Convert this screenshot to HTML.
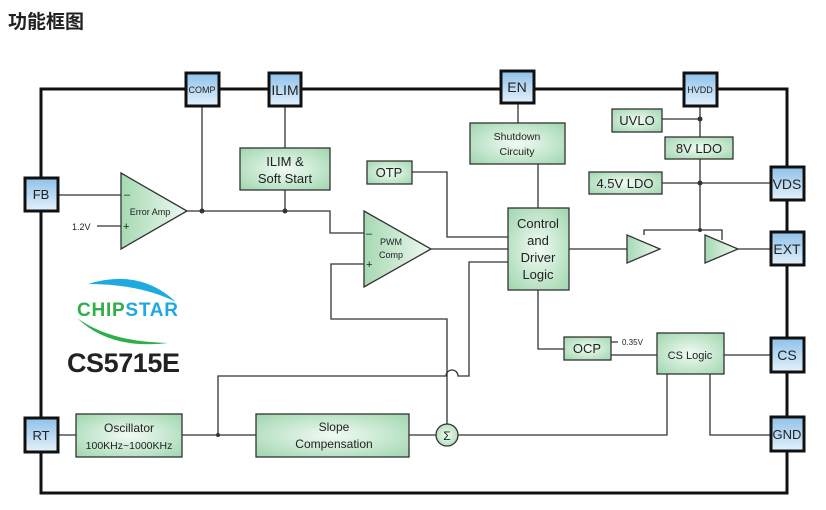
<!DOCTYPE html>
<html><head><meta charset="utf-8"><style>
html,body{margin:0;padding:0;background:#fff;}
svg{display:block;}
text{font-family:"Liberation Sans","Noto Sans CJK SC",sans-serif;fill:#222;}
</style></head><body>
<svg width="826" height="510" viewBox="0 0 826 510" xmlns="http://www.w3.org/2000/svg">
<defs>
<radialGradient id="g" cx="50%" cy="50%" r="70%"><stop offset="0" stop-color="#f2fbf4"/><stop offset="1" stop-color="#9fd6ae"/></radialGradient>
<linearGradient id="b" x1="0" y1="0" x2="0" y2="1"><stop offset="0" stop-color="#8fc1e9"/><stop offset="1" stop-color="#e4f1fb"/></linearGradient>
<linearGradient id="t" x1="0" y1="0" x2="1" y2="0"><stop offset="0" stop-color="#a6d9b3"/><stop offset="1" stop-color="#eef9f1"/></linearGradient>
</defs>
<text x="8" y="28" font-size="19" font-weight="bold" style="font-family:'Noto Sans CJK SC',sans-serif">功能框图</text>
<!-- outer border -->
<rect x="41" y="89" width="746" height="404" fill="none" stroke="#111" stroke-width="3"/>
<g stroke="#333" stroke-width="1.3" fill="none">
<!-- left side -->
<path d="M58 195H121M97 226H121M187 211H330V233H364M202 106V211M285 106V148M285 190V211"/>
<path d="M364 264H331V319H447V424"/>
<path d="M411 172H447V237H508M431 249H508M508 262H469V376H458a6 6 0 0 0 -12 0H218V435"/>
<path d="M58 435H76M182 435H256M409 435H436M458 435H667V374M710 374V435H771"/>
<path d="M518 103V123M538 164V208M538 290V349H564M611 342H618M611 355H657M724 355H771"/>
<path d="M569 249H627M738 249H771M700 106V137M662 119H700M700 159V230M662 183H771M644 235V230H722V240"/>
</g>
<g fill="#333"><circle cx="202" cy="211" r="2.5"/><circle cx="285" cy="211" r="2.5"/><circle cx="218" cy="435" r="2"/><circle cx="700" cy="119" r="2.5"/><circle cx="700" cy="183" r="2.5"/><circle cx="700" cy="230" r="2"/></g>
<!-- green boxes -->
<g fill="url(#g)" stroke="#333" stroke-width="1.3">
<rect x="240" y="148" width="90" height="42"/>
<rect x="367" y="161" width="45" height="23"/>
<rect x="470" y="123" width="95" height="41"/>
<rect x="508" y="208" width="61" height="82"/>
<rect x="612" y="109" width="50" height="23"/>
<rect x="665" y="137" width="68" height="22"/>
<rect x="589" y="172" width="73" height="22"/>
<rect x="564" y="337" width="47" height="23"/>
<rect x="657" y="333" width="67" height="41"/>
<rect x="76" y="414" width="106" height="43"/>
<rect x="256" y="414" width="153" height="43"/>
<circle cx="447" cy="435" r="11"/>
</g>
<g fill="url(#t)" stroke="#333" stroke-width="1.3">
<path d="M121 173L187 211L121 249Z"/>
<path d="M364 211L431 249L364 287Z"/>
<path d="M627 235L660 249L627 263Z"/>
<path d="M705 235L738 249L705 263Z"/>
</g>
<!-- pins -->
<g fill="url(#b)" stroke="#111" stroke-width="3">
<rect x="186" y="73" width="33" height="33"/>
<rect x="269" y="73" width="32" height="33"/>
<rect x="501" y="71" width="33" height="32"/>
<rect x="684" y="73" width="33" height="33"/>
<rect x="25" y="178" width="33" height="33"/>
<rect x="771" y="167" width="33" height="33"/>
<rect x="771" y="232" width="33" height="33"/>
<rect x="771" y="338" width="33" height="34"/>
<rect x="771" y="417" width="33" height="34"/>
<rect x="25" y="418" width="33" height="34"/>
</g>
<g text-anchor="middle">
<text x="202" y="93" font-size="9">COMP</text>
<text x="285" y="95" font-size="14">ILIM</text>
<text x="517" y="92" font-size="14">EN</text>
<text x="700" y="93" font-size="9">HVDD</text>
<text x="41" y="199" font-size="13">FB</text>
<text x="787" y="189" font-size="14">VDS</text>
<text x="787" y="254" font-size="14">EXT</text>
<text x="787" y="360" font-size="14">CS</text>
<text x="787" y="439" font-size="13">GND</text>
<text x="41" y="440" font-size="13">RT</text>
<text x="285" y="166" font-size="13">ILIM &amp;</text>
<text x="285" y="183" font-size="13">Soft Start</text>
<text x="389" y="177" font-size="13">OTP</text>
<text x="517" y="140" font-size="10.5">Shutdown</text>
<text x="517" y="155" font-size="10.5">Circuity</text>
<text x="538" y="228" font-size="13">Control</text>
<text x="538" y="245" font-size="13">and</text>
<text x="538" y="262" font-size="13">Driver</text>
<text x="538" y="279" font-size="13">Logic</text>
<text x="637" y="125" font-size="13">UVLO</text>
<text x="699" y="153" font-size="13">8V LDO</text>
<text x="625" y="188" font-size="13">4.5V LDO</text>
<text x="587" y="353" font-size="13">OCP</text>
<text x="690" y="359" font-size="11">CS Logic</text>
<text x="129" y="432" font-size="12">Oscillator</text>
<text x="129" y="449" font-size="10.5">100KHz~1000KHz</text>
<text x="334" y="431" font-size="12">Slope</text>
<text x="334" y="448" font-size="12">Compensation</text>
<text x="447" y="440" font-size="12">Σ</text>
<text x="150" y="215" font-size="9">Error Amp</text>
<text x="391" y="245" font-size="9">PWM</text>
<text x="391" y="258" font-size="9">Comp</text>
</g>
<text x="124" y="198" font-size="11">–</text>
<text x="123" y="230" font-size="11">+</text>
<text x="366" y="237" font-size="11">–</text>
<text x="366" y="268" font-size="11">+</text>
<text x="72" y="230" font-size="9">1.2V</text>
<text x="622" y="345" font-size="8">0.35V</text>
<!-- logo -->
<path d="M88 284Q140 268 176 302Q140 284 88 284Z" fill="#1ea9e1"/>
<path d="M77 318Q110 350 168 343Q110 342 77 318Z" fill="#2fae4a"/>
<text x="77" y="316" font-size="19" font-weight="bold" style="fill:#2fae4a" textLength="101"><tspan>CHIP</tspan><tspan style="fill:#1ea9e1">STAR</tspan></text>
<text x="67" y="372" font-size="27" font-weight="bold" textLength="113" style="fill:#222">CS5715E</text>
</svg>
</body></html>
